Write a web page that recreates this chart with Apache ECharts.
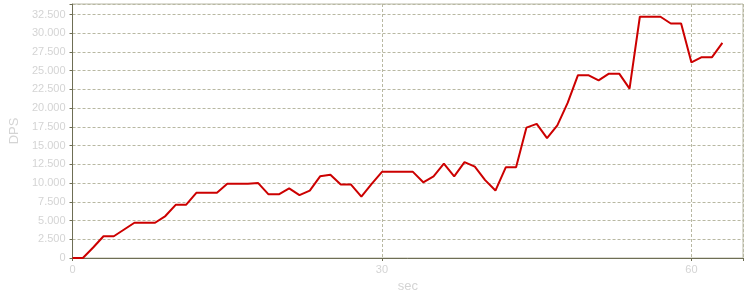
<!DOCTYPE html>
<html>
<head>
<meta charset="utf-8">
<script src="https://cdn.jsdelivr.net/npm/echarts@6/dist/echarts.min.js"></script>
<style>html,body{margin:0;padding:0;background:#fff}#c{width:750px;height:300px}</style>
</head>
<body>
<div id="c"></div>
<script>
var seconds = [0,1,2,3,4,5,6,7,8,9,10,11,12,13,14,15,16,17,18,19,20,21,22,23,24,25,26,27,28,29,30,31,32,33,34,35,36,37,38,39,40,41,42,43,44,45,46,47,48,49,50,51,52,53,54,55,56,57,58,59,60,61,62,63];
var dps = [0,0,1400,2900,2900,3800,4700,4700,4700,5600,7100,7100,8700,8700,8700,9900,9900,9900,10000,8500,8500,9300,8400,9000,10900,11100,9800,9800,8200,9900,11500,11500,11500,11500,10100,10900,12600,10900,12800,12200,10400,9000,12100,12100,17400,17900,16000,17700,20700,24400,24400,23700,24600,24600,22600,32200,32200,32200,31300,31300,26100,26800,26800,28700];
var xTicks = [0,30,60];
var yMax = 33900;

function fmt(v){return String(v).replace(/\B(?=(\d{3})+(?!\d))/g,'.');}

var chart = echarts.init(document.getElementById('c'), null, {renderer:'canvas'});
chart.setOption({
  animation:false,
  grid:{left:70,right:7,top:4,bottom:42,show:true,borderColor:'#b9b9a6',borderWidth:1,backgroundColor:'#fff'},
  xAxis:{
    type:'value',min:0,max:65,interval:30,
    name:'sec',nameLocation:'middle',nameGap:22,
    nameTextStyle:{color:'#d4d4d4',fontFamily:'Liberation Sans',fontSize:13},
    axisLine:{show:true,onZero:false,lineStyle:{color:'#6e6e55',width:1}},
    axisTick:{show:true,length:3,lineStyle:{color:'#6e6e55'}},
    axisLabel:{color:'#d4d4d4',fontFamily:'Liberation Sans',fontSize:11,margin:6,
      formatter:function(v){return xTicks.indexOf(v)>=0?String(v):'';}},
    splitLine:{show:true,lineStyle:{color:'#b8b8a2',type:[3,2],width:1}}
  },
  yAxis:{
    type:'value',min:0,max:yMax,interval:2500,
    name:'DPS',nameLocation:'middle',nameGap:46,nameRotate:90,
    nameTextStyle:{color:'#d4d4d4',fontFamily:'Liberation Sans',fontSize:13},
    axisLine:{show:true,lineStyle:{color:'#6e6e55',width:1}},
    axisTick:{show:true,length:3,lineStyle:{color:'#6e6e55'}},
    axisLabel:{color:'#d4d4d4',fontFamily:'Liberation Sans',fontSize:11,margin:7,
      formatter:function(v){return v%2500===0?fmt(v):'';}},
    splitLine:{show:true,lineStyle:{color:'#b8b8a2',type:[3,2],width:1}}
  },
  series:[{
    type:'line',
    data:seconds.map(function(s,i){return [s,dps[i]];}),
    showSymbol:false,
    lineStyle:{color:'#cc0000',width:2},
    itemStyle:{color:'#cc0000'}
  }]
});
</script>
</body>
</html>
